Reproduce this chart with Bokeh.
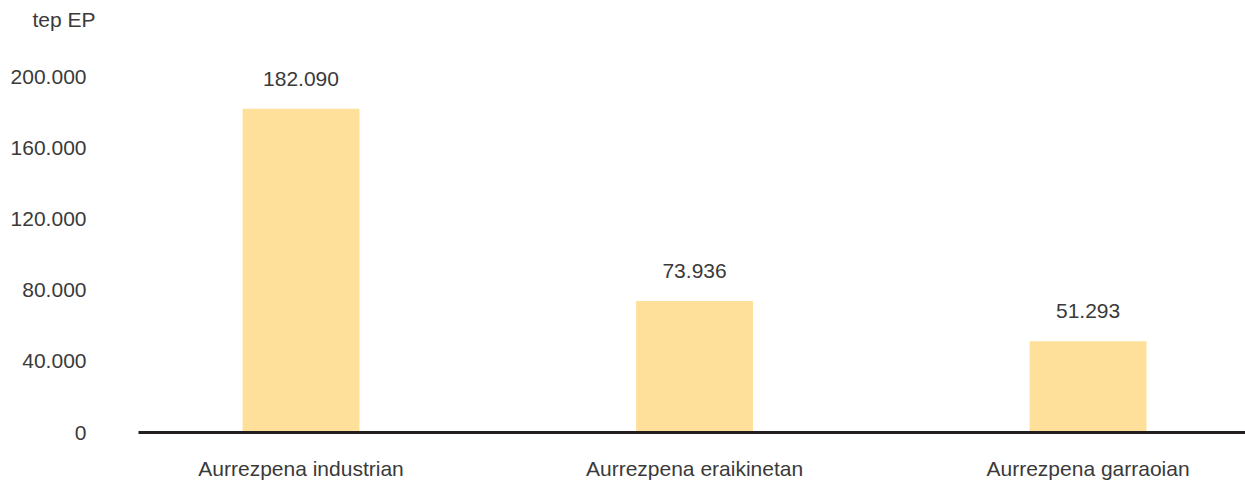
from bokeh.plotting import figure
from bokeh.models import Range1d, FixedTicker, ColumnDataSource
from bokeh.core.properties import value
from bokeh.embed import file_html
from bokeh.resources import INLINE

categories = ["Aurrezpena industrian", "Aurrezpena eraikinetan", "Aurrezpena garraoian"]
values = [182090, 73936, 51293]
y_ticks = [0, 40000, 80000, 120000, 160000, 200000]
y_tick_labels = ["0", "40.000", "80.000", "120.000", "160.000", "200.000"]
unit_label = "tep EP"

FONT = "Liberation Sans"
TXT = "#3a3a3a"
BAR = "#FEE09A"
FS = "21px"

xs = list(range(len(categories)))
labels = [f"{v:,}".replace(",", ".") for v in values]
src = ColumnDataSource(dict(x=xs, top=values, lab=labels))

p = figure(width=1245, height=482,
           x_range=Range1d(-0.413, 2.400), y_range=Range1d(0, 226160),
           output_backend="svg", toolbar_location=None, title=unit_label,
           min_border_left=138, min_border_right=0, min_border_top=30, min_border_bottom=0)
p.outline_line_color = None
p.xgrid.visible = False
p.ygrid.visible = False

p.title.align = "left"
p.title.offset = -106
p.title.standoff = 0
p.title.text_font = FONT
p.title.text_font_size = FS
p.title.text_font_style = "normal"
p.title.text_color = TXT

p.vbar(x="x", top="top", width=0.297, source=src, color=BAR, line_color=None)
p.text(x="x", y="top", text="lab", source=src, y_offset=-30,
       text_align="center", text_baseline="middle",
       text_font=value(FONT), text_font_size=FS, text_color=TXT)

xa = p.xaxis[0]
xa.ticker = FixedTicker(ticks=xs)
xa.major_label_overrides = {i: c for i, c in zip(xs, categories)}
xa.axis_line_color = "#231F20"
xa.axis_line_width = 3
xa.major_tick_line_color = None
xa.minor_tick_line_color = None
xa.major_label_standoff = 18
xa.major_label_text_font = FONT
xa.major_label_text_font_size = FS
xa.major_label_text_color = TXT

ya = p.yaxis[0]
ya.ticker = FixedTicker(ticks=y_ticks)
ya.major_label_overrides = {t: l for t, l in zip(y_ticks, y_tick_labels)}
ya.axis_line_color = None
ya.major_tick_line_color = None
ya.minor_tick_line_color = None
ya.major_label_standoff = 46
ya.major_label_text_font = FONT
ya.major_label_text_font_size = FS
ya.major_label_text_color = TXT

open("out.html", "w").write(file_html(p, INLINE))
